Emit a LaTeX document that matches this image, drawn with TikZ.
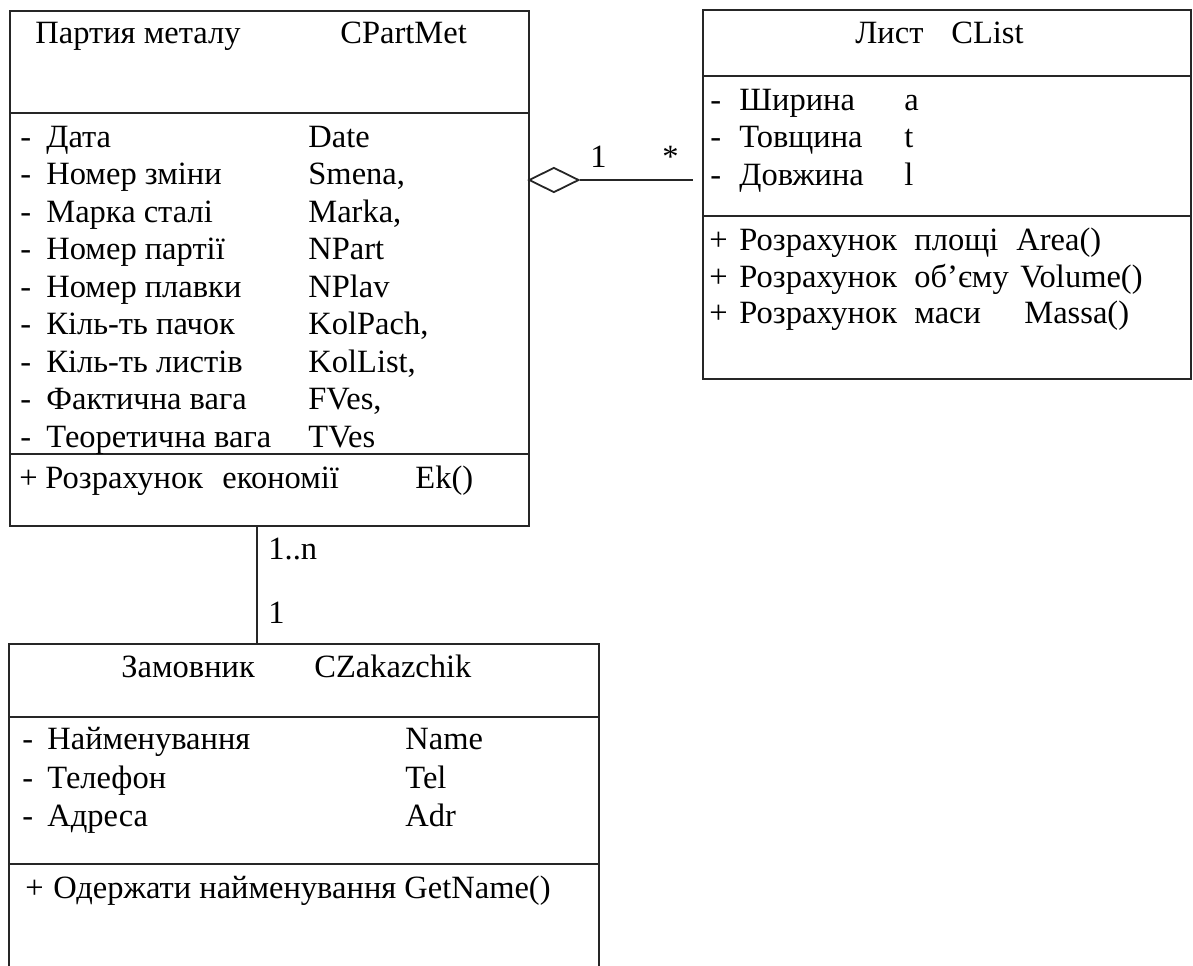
\documentclass[tikz,border=0pt]{standalone}
\usepackage{fontspec}
\setmainfont{Liberation Serif}
\usetikzlibrary{positioning, shapes.geometric}
\newcommand{\umlfont}{\fontsize{16.25}{19}\selectfont}

\begin{document}
\begin{tikzpicture}[
    x=0.5pt, y=-0.5pt,
    classbox/.style={rectangle, draw=black!85, line width=0.9pt, inner sep=0pt, anchor=north west},
    rule/.style={draw=black!85, line width=0.9pt},
    aggr/.style={diamond, draw=black!85, line width=0.9pt, inner sep=0pt, minimum width=25pt, minimum height=12.5pt},
    txt/.style={anchor=base west, inner sep=0pt, font=\umlfont},
]
\useasboundingbox (0,0) rectangle (1193,965);

% Partia metalu
\node[classbox, minimum width=259.5pt, minimum height=257.5pt] (part) at (9,10) {};
\draw[rule] (9,113) -- (528,113);
\draw[rule] (9,454) -- (528,454);
\node[txt] (part-t1) at (35,43) {Партия металу};
\node[txt] (part-t2) at (340,43) {CPartMet};

\node[txt] (pa1d) at (20,147) {-};
\node[txt] (pa1n) at (46,147) {Дата};
\node[txt] (pa1v) at (308,147) {Date};
\node[txt] (pa2d) at (20,184.5) {-};
\node[txt] (pa2n) at (46,184.5) {Номер зміни};
\node[txt] (pa2v) at (308,184.5) {Smena,};
\node[txt] (pa3d) at (20,222) {-};
\node[txt] (pa3n) at (46,222) {Марка сталі};
\node[txt] (pa3v) at (308,222) {Marka,};
\node[txt] (pa4d) at (20,259.5) {-};
\node[txt] (pa4n) at (46,259.5) {Номер партії};
\node[txt] (pa4v) at (308,259.5) {NPart};
\node[txt] (pa5d) at (20,297) {-};
\node[txt] (pa5n) at (46,297) {Номер плавки};
\node[txt] (pa5v) at (308,297) {NPlav};
\node[txt] (pa6d) at (20,334.5) {-};
\node[txt] (pa6n) at (46,334.5) {Кіль-ть пачок};
\node[txt] (pa6v) at (308,334.5) {KolPach,};
\node[txt] (pa7d) at (20,372) {-};
\node[txt] (pa7n) at (46,372) {Кіль-ть листів};
\node[txt] (pa7v) at (308,372) {KolList,};
\node[txt] (pa8d) at (20,409.5) {-};
\node[txt] (pa8n) at (46,409.5) {Фактична вага};
\node[txt] (pa8v) at (308,409.5) {FVes,};
\node[txt] (pa9d) at (20,447) {-};
\node[txt] (pa9n) at (46,447) {Теоретична вага};
\node[txt] (pa9v) at (308,447) {TVes};

\node[txt] (pm1p) at (19,488) {+};
\node[txt] (pm1n) at (45,488) {Розрахунок};
\node[txt] (pm1w) at (222,488) {економії};
\node[txt] (pm1v) at (415,488) {Ek()};

% List
\node[classbox, minimum width=244pt, minimum height=184.5pt] (list) at (702,9) {};
\draw[rule] (702,76) -- (1190,76);
\draw[rule] (702,216) -- (1190,216);
\node[txt] (list-t1) at (855,43) {Лист};
\node[txt] (list-t2) at (951,43) {CList};

\node[txt] (la1d) at (710,110) {-};
\node[txt] (la1n) at (739,110) {Ширина};
\node[txt] (la1v) at (904,110) {a};
\node[txt] (la2d) at (710,147.5) {-};
\node[txt] (la2n) at (739,147.5) {Товщина};
\node[txt] (la2v) at (904,147.5) {t};
\node[txt] (la3d) at (710,185) {-};
\node[txt] (la3n) at (739,185) {Довжина};
\node[txt] (la3v) at (904,185) {l};

\node[txt] (lm1p) at (709,250) {+};
\node[txt] (lm1n) at (739,250) {Розрахунок};
\node[txt] (lm1w) at (914,250) {площі};
\node[txt] (lm1v) at (1016,250) {Area()};
\node[txt] (lm2p) at (709,287) {+};
\node[txt] (lm2n) at (739,287) {Розрахунок};
\node[txt] (lm2w) at (914,287) {об’єму};
\node[txt] (lm2v) at (1020,287) {Volume()};
\node[txt] (lm3p) at (709,323) {+};
\node[txt] (lm3n) at (739,323) {Розрахунок};
\node[txt] (lm3w) at (914,323) {маси};
\node[txt] (lm3v) at (1024,323) {Massa()};

% Zamovnyk (runs off the bottom edge)
\node[classbox, minimum width=295pt, minimum height=175pt] (zak) at (8,643) {};
\draw[rule] (8,717) -- (598,717);
\draw[rule] (8,864) -- (598,864);
\node[txt] (zak-t1) at (121,677) {Замовник};
\node[txt] (zak-t2) at (314,677) {CZakazchik};

\node[txt] (za1d) at (22,749) {-};
\node[txt] (za1n) at (47,749) {Найменування};
\node[txt] (za1v) at (405,749) {Name};
\node[txt] (za2d) at (22,788) {-};
\node[txt] (za2n) at (47,788) {Телефон};
\node[txt] (za2v) at (405,788) {Tel};
\node[txt] (za3d) at (22,826) {-};
\node[txt] (za3n) at (47,826) {Адреса};
\node[txt] (za3v) at (405,826) {Adr};

\node[txt] (zm1p) at (25,898) {+};
\node[txt] (zm1n) at (53,898) {Одержати найменування GetName()};

% Aggregation Partia -- List
\node[aggr, anchor=west] (agg) at (528,180) {};
\draw[rule] (agg.east) -- ([xshift=-4.5pt]agg.east -| list.west);
\node[txt] (agg-m1) at (590,167) {1};
\node[txt] (agg-m2) at (662,167) {*};

% Association Partia -- Zamovnyk
\coordinate (lnk) at (257,0);
\draw[rule] (lnk |- part.south) -- (lnk |- zak.north);
\node[txt] (lnk-m1) at (268,559) {1..n};
\node[txt] (lnk-m2) at (268,623) {1};
\end{tikzpicture}
\end{document}
